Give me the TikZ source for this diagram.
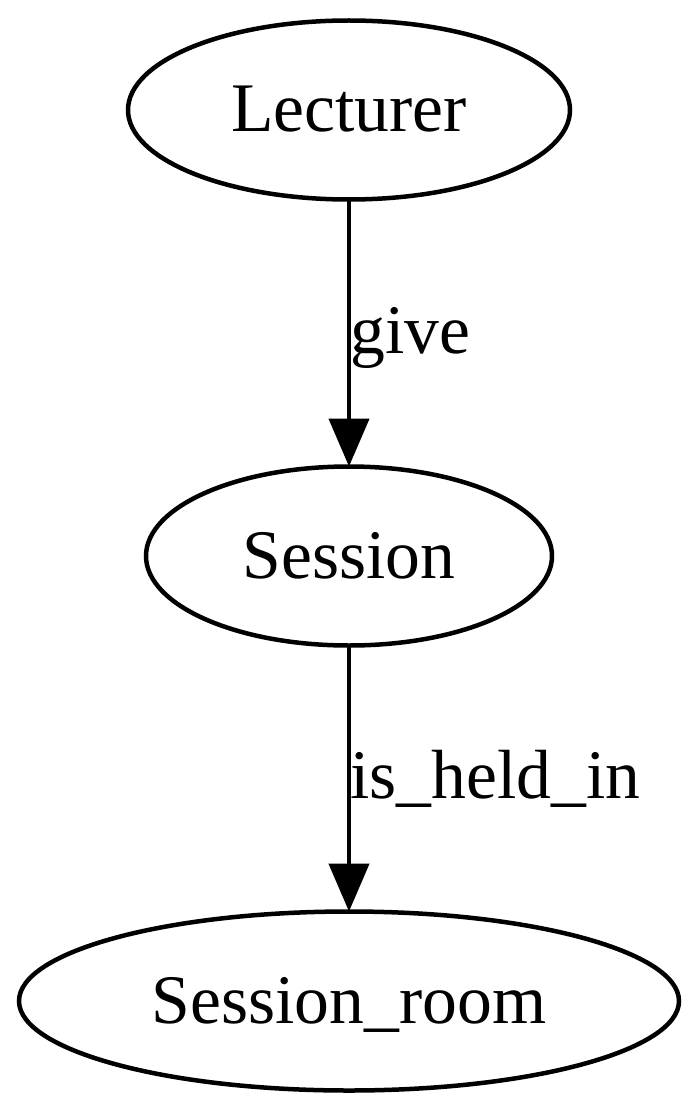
\documentclass[tikz,border=0pt]{standalone}
\usepackage{fontspec}
\setmainfont{Liberation Serif}
\usetikzlibrary{shapes.geometric,arrows.meta}

\begin{document}
\begin{tikzpicture}[x=1pt,y=-1pt,font=\fontsize{69.6}{80}\selectfont,
    entity/.style={shape=ellipse,draw=black,line width=4.5pt,inner sep=0pt,outer sep=0pt,
      minimum height=179pt,text height=50pt,text depth=6pt},
    rel/.style={-{Triangle[length=48pt,width=40pt]},line width=4.5pt}]
            \useasboundingbox (0,0) rectangle (700,1110);
            \node[entity,minimum width=442pt] (lecturer) at (349,110) {Lecturer};
            \node[entity,minimum width=406pt] (session) at (349,556) {Session};
            \node[entity,minimum width=660pt] (room) at (349,1001) {Session\_room};
            \path [rel] (lecturer) edge node[pos=0.575,anchor=base west,inner sep=0pt,xshift=-1pt]{give}(session);
            \path [rel] (session) edge node[pos=0.575,anchor=base west,inner sep=0pt,xshift=-1pt]{is\_held\_in}(room);
        \end{tikzpicture}
\end{document}
